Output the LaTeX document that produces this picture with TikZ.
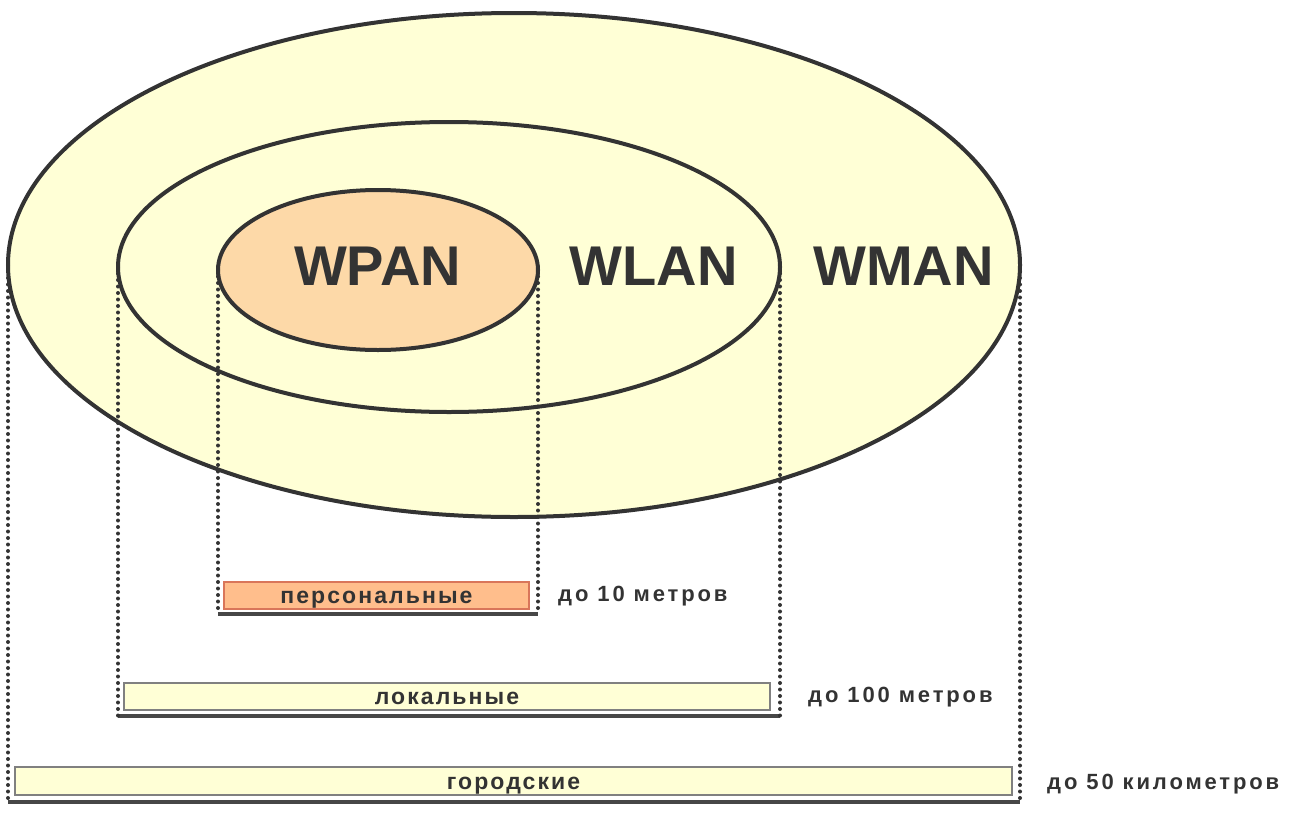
\documentclass[tikz,border=0pt]{standalone}
\usepackage{fontspec}
\setmainfont{Liberation Sans}
\newfontfamily\barfont{Liberation Sans}[LetterSpace=9]
\newfontfamily\distfont{Liberation Sans}[LetterSpace=13]
\usetikzlibrary{shapes.geometric}
\definecolor{ringfill}{HTML}{FFFFD6}
\definecolor{panfill}{HTML}{FDD9A8}
\definecolor{barorange}{HTML}{FFBE8C}
\definecolor{baredge}{HTML}{D9765A}
\definecolor{inkgray}{HTML}{333333}
\begin{document}
\begin{tikzpicture}[x=1pt, y=-1pt]
    \tikzstyle{ring} = [ellipse, draw=inkgray, line width=4pt, fill=ringfill, inner sep=0pt, outer sep=0pt]
    \tikzstyle{bigname} = [anchor=base, font=\fontsize{56}{60}\selectfont\bfseries, text=inkgray, inner sep=0pt]
    \tikzstyle{rangebar} = [rectangle, draw=gray, line width=1.2pt, fill=ringfill, minimum height=27pt, inner sep=0pt, text height=16pt, text depth=0pt, font=\barfont\fontsize{23}{25}\selectfont\bfseries, text=inkgray]
    \tikzstyle{distlabel} = [anchor=base west, inner sep=0pt, font=\distfont\fontsize{22}{24}\selectfont\bfseries, text=inkgray]
    \tikzstyle{guide} = [draw=inkgray, line width=4pt, line cap=round, dash pattern=on 0pt off 6.5pt]
    \tikzstyle{groundline} = [draw=inkgray!90, line width=4pt]
    \useasboundingbox (0,0) rectangle (1290,814);

    % Coverage ellipses
    \node [ring, minimum width=1012pt, minimum height=504pt] (wman) at (514,265) {};
    \node [ring, minimum width=662pt, minimum height=290pt] (wlan) at (449,267) {};
    \node [ring, fill=panfill, minimum width=320pt, minimum height=160pt] (wpan) at (378,270) {};
    \node [bigname] (wpan_name) at (377.5,285) {WPAN};
    \node [bigname] (wlan_name) at (653.5,285) {WLAN};
    \node [bigname] (wman_name) at (903.5,285) {WMAN};

    % Range bars
    \node [rangebar, draw=baredge, fill=barorange, minimum width=305pt] (personal) at (376.5,595.5) {персональные};
    \node [rangebar, minimum width=646pt] (local) at (447,696.5) {локальные};
    \node [rangebar, minimum width=997pt, minimum height=28pt] (city) at (513.5,781) {городские};

    % Base lines under the bars
    \coordinate (pan_l) at (wpan.west |- 0,614);
    \coordinate (pan_r) at (wpan.east |- 0,614);
    \coordinate (lan_l) at (wlan.west |- 0,716);
    \coordinate (lan_r) at (wlan.east |- 0,716);
    \coordinate (man_l) at (wman.west |- 0,802);
    \coordinate (man_r) at (wman.east |- 0,802);
    \draw [groundline] (pan_l) -- (pan_r);
    \draw [groundline] (lan_l) -- (lan_r);
    \draw [groundline] (man_l) -- (man_r);

    % Dotted guides
    \draw [guide] (wpan.west) -- (pan_l);
    \draw [guide] (wpan.east) -- (pan_r);
    \draw [guide] (wlan.west) -- (lan_l);
    \draw [guide] (wlan.east) -- (lan_r);
    \draw [guide] (wman.west) -- (man_l);
    \draw [guide] (wman.east) -- (man_r);

    % Distances
    \node [distlabel] (pan_range) at (558,601) {до 10 метров};
    \node [distlabel] (lan_range) at (808,702) {до 100 метров};
    \node [distlabel] (man_range) at (1047,789) {до 50 километров};
\end{tikzpicture}
\end{document}
